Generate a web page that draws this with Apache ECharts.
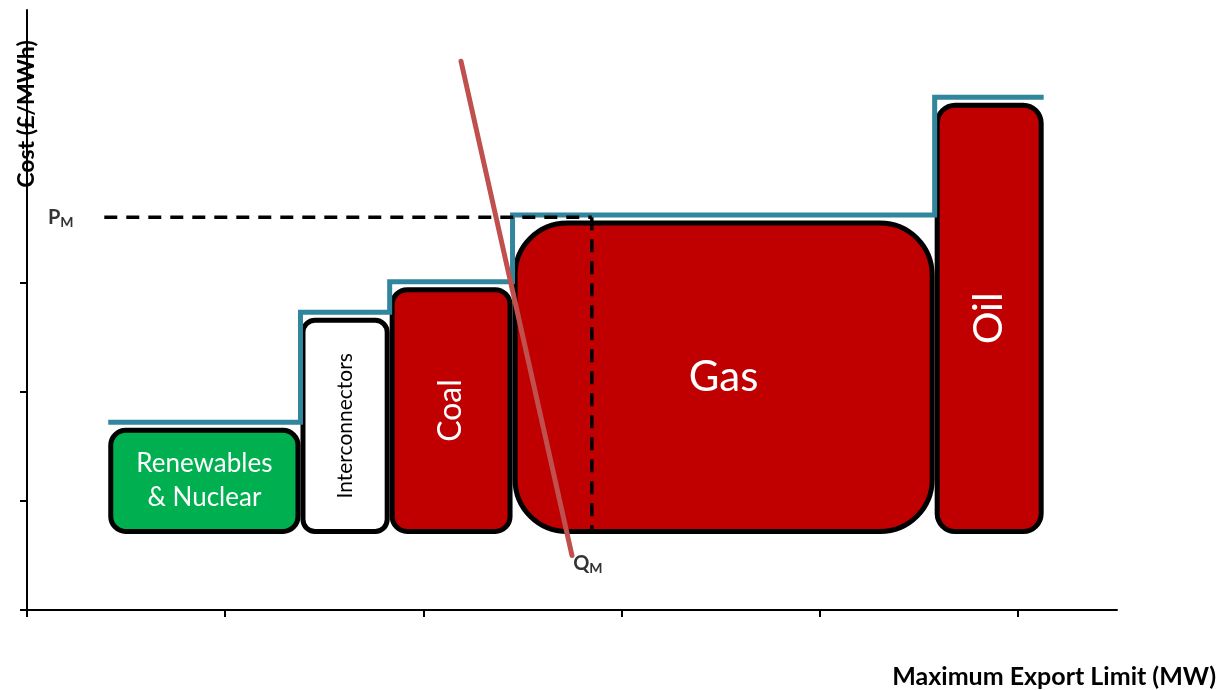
<!DOCTYPE html>
<html>
<head>
<meta charset="utf-8">
<script src="https://cdn.jsdelivr.net/npm/echarts@6/dist/echarts.min.js"></script>
<style>html,body{margin:0;padding:0;background:#fff}#main{width:1221px;height:690px}</style>
</head>
<body>
<div id="main"></div>
<script>
// merit order: each plant type sits between two capacity boundaries
var categories = ['Renewables\n& Nuclear', 'Interconnectors', 'Coal', 'Gas', 'Oil'];
var boundaries = [0.41, 1.38, 1.83, 2.45, 4.58, 5.13];
var costs = [1.72, 2.73, 3.01, 3.62, 4.70];
var blockBase = 0.72;
// demand curve end points
var demandLine = [[2.19, 5.03], [2.75, 0.5]];
var priceM = 3.6;
var quantityM = 2.85;
var dashStart = 0.39;
var xTicks = [0, 1, 2, 3, 4, 5];
var yTicks = [0, 1, 2, 3];

var FONT = 'Lato, "Open Sans", sans-serif';
var blockStyle = [
  {fill: '#00B050', color: '#fff', size: 26, rot: 0, r: 15},
  {fill: '#fff', color: '#000', size: 21, rot: Math.PI / 2, r: 12},
  {fill: '#C00000', color: '#fff', size: 32, rot: Math.PI / 2, r: 15},
  {fill: '#C00000', color: '#fff', size: 42, rot: 0, r: 52},
  {fill: '#C00000', color: '#fff', size: 41, rot: Math.PI / 2, r: 18}
];

var blockData = [];
for (var i = 0; i < categories.length; i++) {
  blockData.push([boundaries[i], boundaries[i + 1], costs[i], blockBase]);
}
var stepData = [];
for (var i = 0; i < costs.length; i++) stepData.push([boundaries[i], costs[i]]);
stepData.push([boundaries[boundaries.length - 1], costs[costs.length - 1]]);

function renderBlock(params, api) {
  var i = params.dataIndex;
  var st = blockStyle[i];
  var p0 = api.coord([api.value(0), api.value(2)]);
  var p1 = api.coord([api.value(1), api.value(3)]);
  var x = p0[0] + 2.5, y = p0[1] + 8;
  var w = p1[0] - p0[0] - 5, h = p1[1] - y;
  return {
    type: 'group',
    children: [
      {type: 'rect', shape: {x: x, y: y, width: w, height: h, r: st.r},
        style: {fill: st.fill, stroke: '#000', lineWidth: 5}},
      {type: 'text', x: x + w / 2, y: y + h / 2, rotation: st.rot,
        style: {text: categories[i], fill: st.color, fontSize: st.size, fontFamily: FONT,
          align: 'center', verticalAlign: 'middle', lineHeight: st.size * 1.3}}
    ]
  };
}

var chart = echarts.init(document.getElementById('main'));
chart.setOption({
  animation: false,
  grid: {left: 27, right: 104, top: 10, bottom: 80},
  xAxis: {
    type: 'value', min: 0, max: 5.5, interval: 1,
    axisLine: {lineStyle: {color: '#000', width: 2}},
    axisTick: {show: true, length: 7, customValues: xTicks, lineStyle: {color: '#000', width: 2}},
    axisLabel: {show: false},
    splitLine: {show: false}
  },
  yAxis: {
    type: 'value', min: 0, max: 5.5, interval: 1,
    axisLine: {show: true, lineStyle: {color: '#000', width: 2}},
    axisTick: {show: true, length: 7, customValues: yTicks, lineStyle: {color: '#000', width: 2}},
    axisLabel: {show: false},
    splitLine: {show: false}
  },
  graphic: [
    {type: 'text', x: 27, y: 114, rotation: Math.PI / 2, z: 10,
      style: {text: 'Cost (£/MWh)', fontSize: 23, fontWeight: 'bold', fontFamily: FONT,
        fill: '#000', align: 'center', verticalAlign: 'middle'}},
    {type: 'text', x: 1216, y: 677, z: 10,
      style: {text: 'Maximum Export Limit (MW)', fontSize: 25, fontWeight: 'bold', fontFamily: FONT,
        fill: '#000', align: 'right', verticalAlign: 'middle'}}
  ],
  series: [
    {type: 'custom', renderItem: renderBlock, data: blockData, z: 2, silent: true},
    {type: 'line', data: stepData, step: 'end', showSymbol: false, z: 3, silent: true,
      lineStyle: {color: '#31859C', width: 5, join: 'miter', cap: 'butt'}},
    {type: 'line', data: demandLine, showSymbol: false, z: 4, silent: true,
      lineStyle: {color: '#C0504D', width: 5, cap: 'round'}},
    {type: 'line', data: [[dashStart, priceM], [quantityM, priceM]], showSymbol: false, z: 5, silent: true,
      lineStyle: {color: '#000', width: 3.5, type: [13, 9]}},
    {type: 'line', data: [[quantityM, priceM], [quantityM, blockBase]], showSymbol: false, z: 5, silent: true,
      lineStyle: {color: '#000', width: 3.5, type: [13, 9]}},
    {type: 'scatter', symbolSize: 2, itemStyle: {color: 'rgba(0,0,0,0)'}, z: 6, silent: true,
      data: [
        {value: [0.17, priceM], name: 'P'},
        {value: [2.83, 0.43], name: 'Q'}
      ],
      label: {show: true, position: 'inside', formatter: '{m|{b}}{s|M}',
        color: '#000', textBorderWidth: 0, textBorderColor: 'transparent',
        rich: {
          m: {fontSize: 20, fontWeight: 'bold', fontFamily: FONT, color: '#000', textBorderWidth: 0},
          s: {fontSize: 14, fontWeight: 'bold', fontFamily: FONT, color: '#000', textBorderWidth: 0, padding: [10, 0, 0, 0]}
        }}
    }
  ]
});
</script>
</body>
</html>
